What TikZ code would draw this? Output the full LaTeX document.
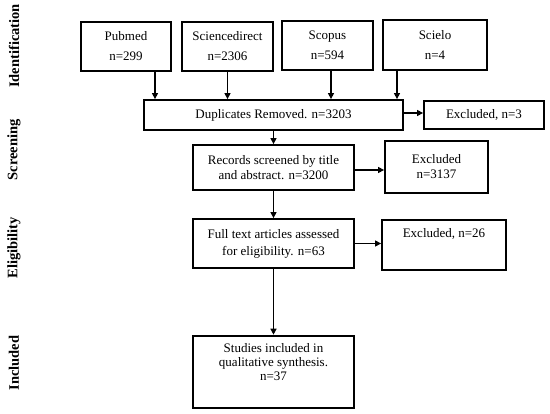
\documentclass[tikz,border=0pt]{standalone}
\usepackage{fontspec}
\setmainfont{Liberation Serif}
\usetikzlibrary{arrows.meta, positioning}

\begin{document}
\begin{tikzpicture}[x=1pt, y=-1pt,
  box/.style={draw, line width=1.8pt, align=center, inner sep=2pt, font=\fontsize{13}{16}\selectfont},
  arr/.style={line width=1.3pt, -{Triangle[length=6pt,width=6pt]}},
  phase/.style={rotate=90, font=\fontsize{14.5}{16}\selectfont\bfseries}]
\useasboundingbox (0,0) rectangle (550,414);
\node[phase] (id) at (14,46) {Identification};
\node[phase] (scr) at (14,150) {Screening};
\node[phase] (eli) at (14,248) {Eligibility};
\node[phase] (inc) at (14,363) {Included};
\node[box, minimum width=90pt, minimum height=49pt] (pub) at (126,46.5) {Pubmed\\[4pt]n=299};
\node[box, minimum width=91pt, minimum height=49pt] (sci) at (227.5,46.5) {Sciencedirect\\[4pt]n=2306};
\node[box, minimum width=91pt, minimum height=49pt] (scop) at (327.5,45.5) {Scopus\\[4pt]n=594};
\node[box, minimum width=104pt, minimum height=50pt] (scie) at (435,45) {Scielo\\[4pt]n=4};
\node[box, minimum width=259pt, minimum height=30pt] (dup) at (273.5,115) {Duplicates Removed. n=3203};
\node[box, minimum width=120pt, minimum height=28pt] (ex1) at (484,115) {Excluded, n=3};
\node[box, minimum width=161pt, minimum height=45pt] (rec) at (273.5,167.5) {Records screened by title\\[-1pt]and abstract. n=3200};
\node[box, minimum width=103pt, minimum height=52pt] (ex2) at (436.5,167) {Excluded\\[-1pt]n=3137};
\node[box, minimum width=161pt, minimum height=49pt] (full) at (273.5,243.5) {Full text articles assessed\\[1pt]for eligibility. n=63};
\node[box, minimum width=124pt, text height=14pt, text depth=28pt, inner ysep=4pt] (ex3) at (444,245) {Excluded, n=26};
\node[box, line width=2.6pt, minimum width=161pt, minimum height=72pt] (stu) at (273.5,372) {Studies included in\\[-2pt]qualitative synthesis.\\[-2pt]n=37\\[4pt]};
\draw[arr] ([xshift=29pt]pub.south) -- ([xshift=29pt]pub.south |- dup.north);
\draw[arr] (sci.south) -- (sci.south |- dup.north);
\draw[arr] ([xshift=3.5pt]scop.south) -- ([xshift=3.5pt]scop.south |- dup.north);
\draw[arr] ([xshift=-38pt]scie.south) -- ([xshift=-38pt]scie.south |- dup.north);
\draw[arr] ([yshift=2pt]dup.east) -- ([yshift=2pt]dup.east -| ex1.west);
\draw[arr] (dup) -- (rec);
\draw[arr] ([yshift=-2.5pt]rec.east) -- ([yshift=-2.5pt]rec.east -| ex2.west);
\draw[arr] (rec) -- (full);
\draw[arr] (full.east) -- (full.east -| ex3.west);
\draw[arr] (full) -- (stu);
\end{tikzpicture}
\end{document}
